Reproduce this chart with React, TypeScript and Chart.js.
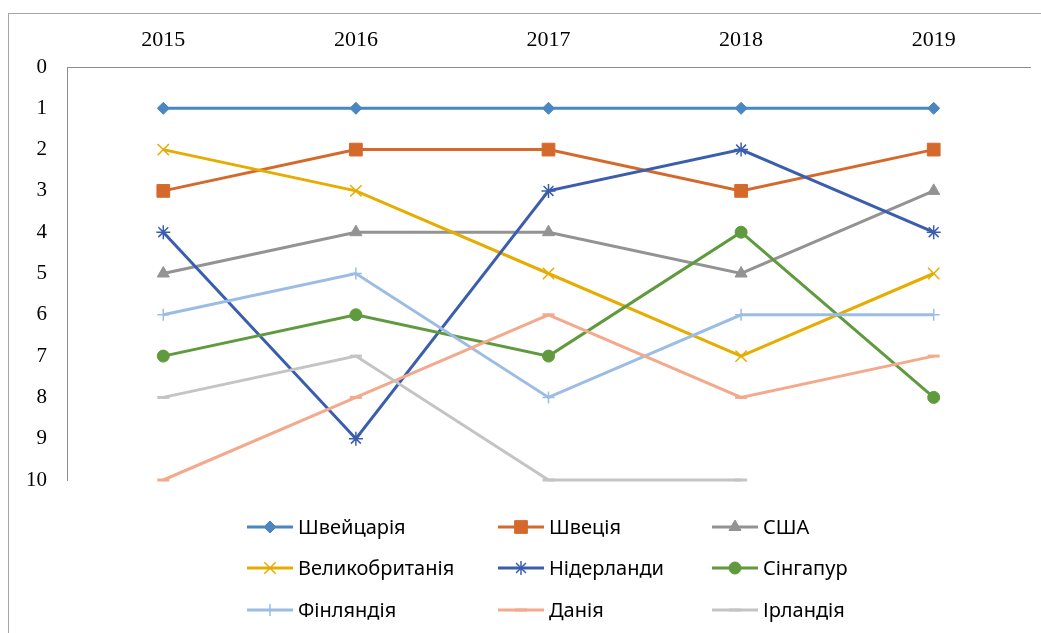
import React, { useEffect, useRef } from "react";
import { Chart, registerables } from "chart.js";
import { drawPoint } from "chart.js/helpers";

Chart.register(...registerables);

// ---- data ----
const years = ["2015", "2016", "2017", "2018", "2019"];
const seriesNames = [
  "Швейцарія",
  "Швеція",
  "США",
  "Великобританія",
  "Нідерланди",
  "Сінгапур",
  "Фінляндія",
  "Данія",
  "Ірландія",
];
const switzerland = [1, 1, 1, 1, 1];
const sweden = [3, 2, 2, 3, 2];
const usa = [5, 4, 4, 5, 3];
const uk = [2, 3, 5, 7, 5];
const netherlands = [4, 9, 3, 2, 4];
const singapore = [7, 6, 7, 4, 8];
const finland = [6, 5, 8, 6, 6];
const denmark = [10, 8, 6, 8, 7];
const ireland: (number | null)[] = [8, 7, 10, 10, null];
const rankMin = 0;
const rankMax = 10;

// ---- styles ----
const seriesValues = [switzerland, sweden, usa, uk, netherlands, singapore, finland, denmark, ireland];
const colors = ["#4A86C2", "#D5692C", "#939393", "#E6AC00", "#3A5EAD", "#5F9A3E", "#9CBDE3", "#F3A98C", "#C4C4C4"];
const pointStyles = ["rectRot", "rect", "triangle", "crossRot", "star", "circle", "cross", "line", "line"];
const pointRadii = [6, 9, 7, 8, 7, 6, 6, 6, 6];
const pointBorderWidths = [1, 1, 1, 1.5, 1.5, 1, 1.5, 3, 3];

const legendCols = [247, 498, 712];
const legendRows = [527, 568, 610];
const legendLineLen = 46;
const legendFont = '20px "Noto Sans"';

const framePlugin = {
  id: "frame",
  beforeDraw(chart: any) {
    const ctx = chart.ctx;
    ctx.save();
    ctx.fillStyle = "#ffffff";
    ctx.fillRect(0, 0, chart.width, chart.height);
    ctx.strokeStyle = "#a6a6a6";
    ctx.lineWidth = 1;
    ctx.strokeRect(8.5, 13.5, 1200, 800);
    ctx.restore();
  },
};

const legendPlugin = {
  id: "gridLegend",
  afterDraw(chart: any) {
    const ctx = chart.ctx;
    ctx.save();
    ctx.font = legendFont;
    ctx.textBaseline = "middle";
    ctx.textAlign = "left";
    chart.data.datasets.forEach((ds: any, i: number) => {
      const col = i % 3;
      const row = Math.floor(i / 3);
      const x0 = legendCols[col];
      const y = legendRows[row];
      ctx.strokeStyle = ds.borderColor;
      ctx.lineWidth = 3;
      ctx.lineCap = "butt";
      ctx.beginPath();
      ctx.moveTo(x0, y);
      ctx.lineTo(x0 + legendLineLen, y);
      ctx.stroke();
      ctx.fillStyle = ds.pointBackgroundColor;
      ctx.strokeStyle = ds.pointBorderColor;
      ctx.lineWidth = ds.pointBorderWidth;
      drawPoint(
        ctx,
        { pointStyle: ds.pointStyle, radius: ds.pointRadius, rotation: 0, borderWidth: ds.pointBorderWidth } as any,
        x0 + legendLineLen / 2,
        y
      );
      ctx.fillStyle = "#000000";
      ctx.fillText(ds.label, x0 + legendLineLen + 5, y + 1);
    });
    ctx.restore();
  },
};

export default function App() {
  const canvasRef = useRef<HTMLCanvasElement | null>(null);

  useEffect(() => {
    if (!canvasRef.current) return;
    const datasets = seriesNames.map((name, i) => ({
      label: name,
      data: seriesValues[i],
      borderColor: colors[i],
      backgroundColor: colors[i],
      pointBackgroundColor: colors[i],
      pointBorderColor: colors[i],
      pointStyle: pointStyles[i],
      pointRadius: pointRadii[i],
      pointBorderWidth: pointBorderWidths[i],
      borderWidth: 3,
      tension: 0,
      spanGaps: false,
      clip: false as any,
      order: seriesNames.length - 1 - i,
    }));
    const chart = new Chart(canvasRef.current, {
      type: "line",
      data: { labels: years, datasets },
      options: {
        responsive: false,
        animation: false,
        events: [],
        layout: { padding: { left: 0, top: 0, right: 11, bottom: 153 } },
        plugins: { legend: { display: false }, tooltip: { enabled: false } },
        scales: {
          x: {
            type: "category",
            position: "top",
            offset: true,
            grid: { display: false, drawTicks: false, tickLength: 0 },
            border: { display: true, color: "#8c8c8c", width: 1 },
            ticks: {
              color: "#000000",
              font: { family: '"Liberation Serif", serif', size: 22 },
              padding: 14,
              maxRotation: 0,
            },
            afterFit(scale: any) {
              scale.height = 67;
            },
          },
          y: {
            type: "linear",
            position: "left",
            reverse: true,
            min: rankMin,
            max: rankMax,
            grid: { display: false, drawTicks: false, tickLength: 0 },
            border: { display: true, color: "#8c8c8c", width: 1 },
            ticks: {
              stepSize: 1,
              color: "#000000",
              font: { family: '"Liberation Serif", serif', size: 21 },
              padding: 20,
            },
            afterFit(scale: any) {
              scale.width = 67;
            },
          },
        },
      },
      plugins: [framePlugin, legendPlugin],
    } as any);
    return () => chart.destroy();
  }, []);

  return (
    <div style={{ position: "absolute", left: 0, top: 0, width: 1041, height: 633 }}>
      <canvas ref={canvasRef} width={1041} height={633} style={{ width: 1041, height: 633, display: "block" }} />
    </div>
  );
}
